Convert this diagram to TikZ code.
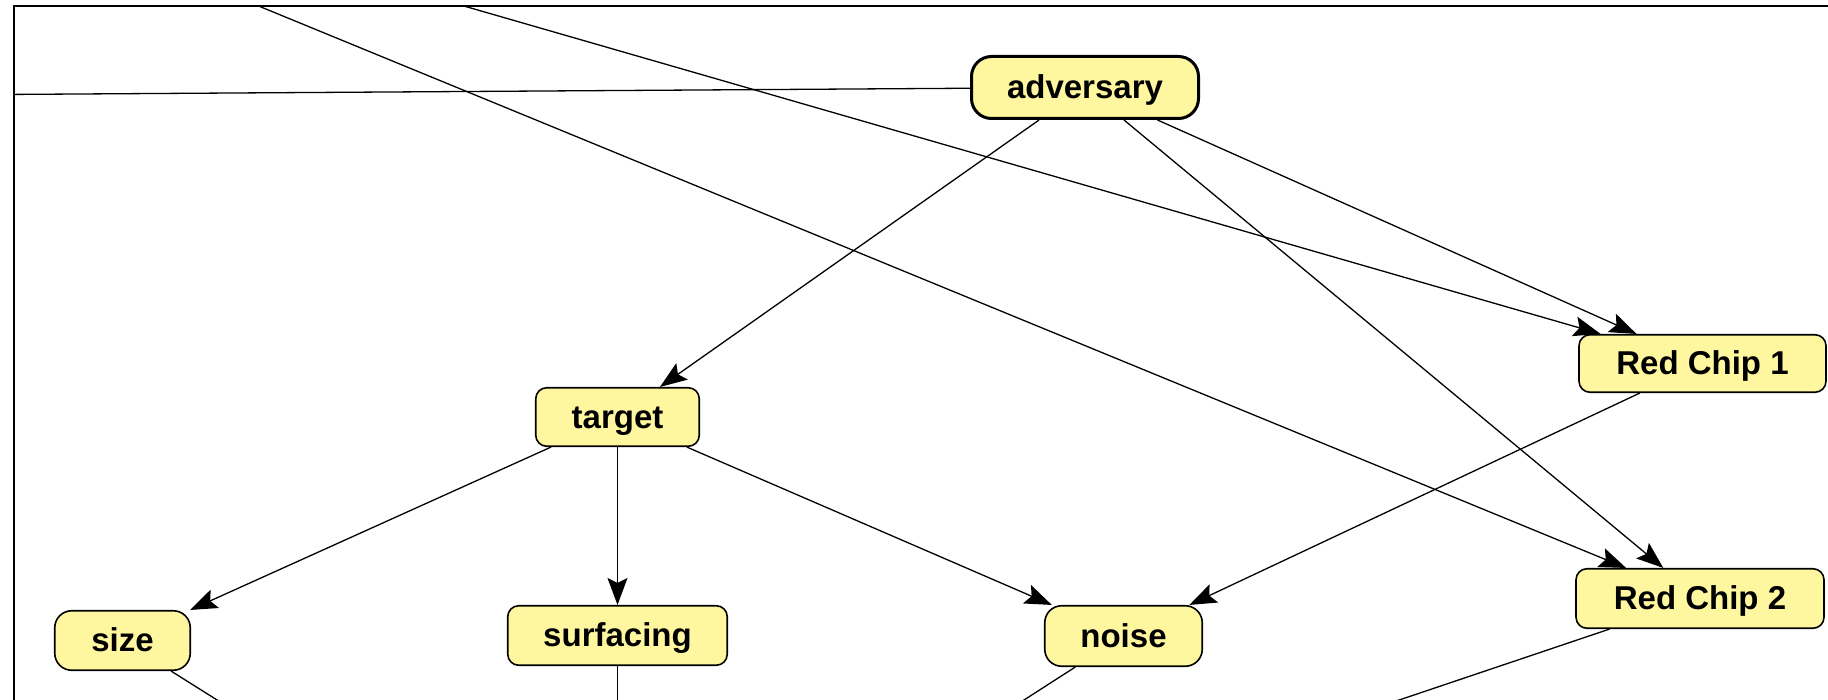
\documentclass[tikz,border=0pt]{standalone}
\usepackage{fontspec}
\setmainfont{Liberation Sans}
\usetikzlibrary{arrows.meta}
\definecolor{nodefill}{RGB}{255,247,160}
\begin{document}
\begin{tikzpicture}[x=1pt,y=-1pt,
  box/.style={draw=black, line width=1.6pt, fill=nodefill, rounded corners=11pt,
    inner sep=0pt, text height=22pt, text depth=0pt,
    font=\fontsize{33}{36}\selectfont\bfseries},
  roundbox/.style={box, rounded corners=17pt},
  rootbox/.style={box, rounded corners=20pt, line width=3pt},
  link/.style={line width=1.3pt, -{Stealth[length=27pt,width=20pt,inset=5pt]}},
  plainlink/.style={line width=1.3pt},
]
\useasboundingbox (0,0) rectangle (1828,700);

% nodes
\node[rootbox, minimum width=227pt, minimum height=62pt] (adv) at (1085,87.5) {adversary};
\node[box, minimum width=247pt, minimum height=57.5pt] (rc1) at (1702.5,363.5) {Red Chip 1};
\node[box, minimum width=248pt, minimum height=59.5pt] (rc2) at (1700,598.5) {Red Chip 2};
\node[box, minimum width=163.5pt, minimum height=58.5pt] (target) at (617.5,417) {target};
\node[roundbox, minimum width=135.5pt, minimum height=59.5pt] (size) at (122.5,640.5) {size};
\node[box, minimum width=219.5pt, minimum height=59.5pt] (surf) at (617.5,635.5) {surfacing};
\node[roundbox, minimum width=157.5pt, minimum height=60.5pt] (noise) at (1123.5,636) {noise};

% ends of connectors whose other nodes lie outside the frame
\coordinate (west) at (-200,95.8);
\coordinate (northA) at (115,-53);
\coordinate (northB) at (216,-65.5);
\coordinate (sizeout) at (316.5,762.5);
\coordinate (surfout) at (617.5,760);
\coordinate (noiseout) at (924.5,764);
\coordinate (rcout) at (1098,801.5);

% connectors
\begin{scope}
\clip (14,6) rectangle (1828,700);
\draw[plainlink] (west) -- (adv);
\draw[link] (northA) -- (rc2);
\draw[link] (northB) -- (rc1);
\draw[link] (adv) -- (target);
\draw[link] (adv) -- (rc1);
\draw[link] (adv) -- (rc2);
\draw[link] (rc1) -- (noise);
\draw[link] (target) -- (size);
\draw[link] (target) -- (surf);
\draw[link] (target) -- (noise);
\draw[plainlink] (size) -- (sizeout);
\draw[plainlink] (surf) -- (surfout);
\draw[plainlink] (noise) -- (noiseout);
\draw[plainlink] (rc2) -- (rcout);
\end{scope}

% frame
\draw[line width=2pt] (14,700) -- (14,6) -- (1828,6);
\end{tikzpicture}
\end{document}
